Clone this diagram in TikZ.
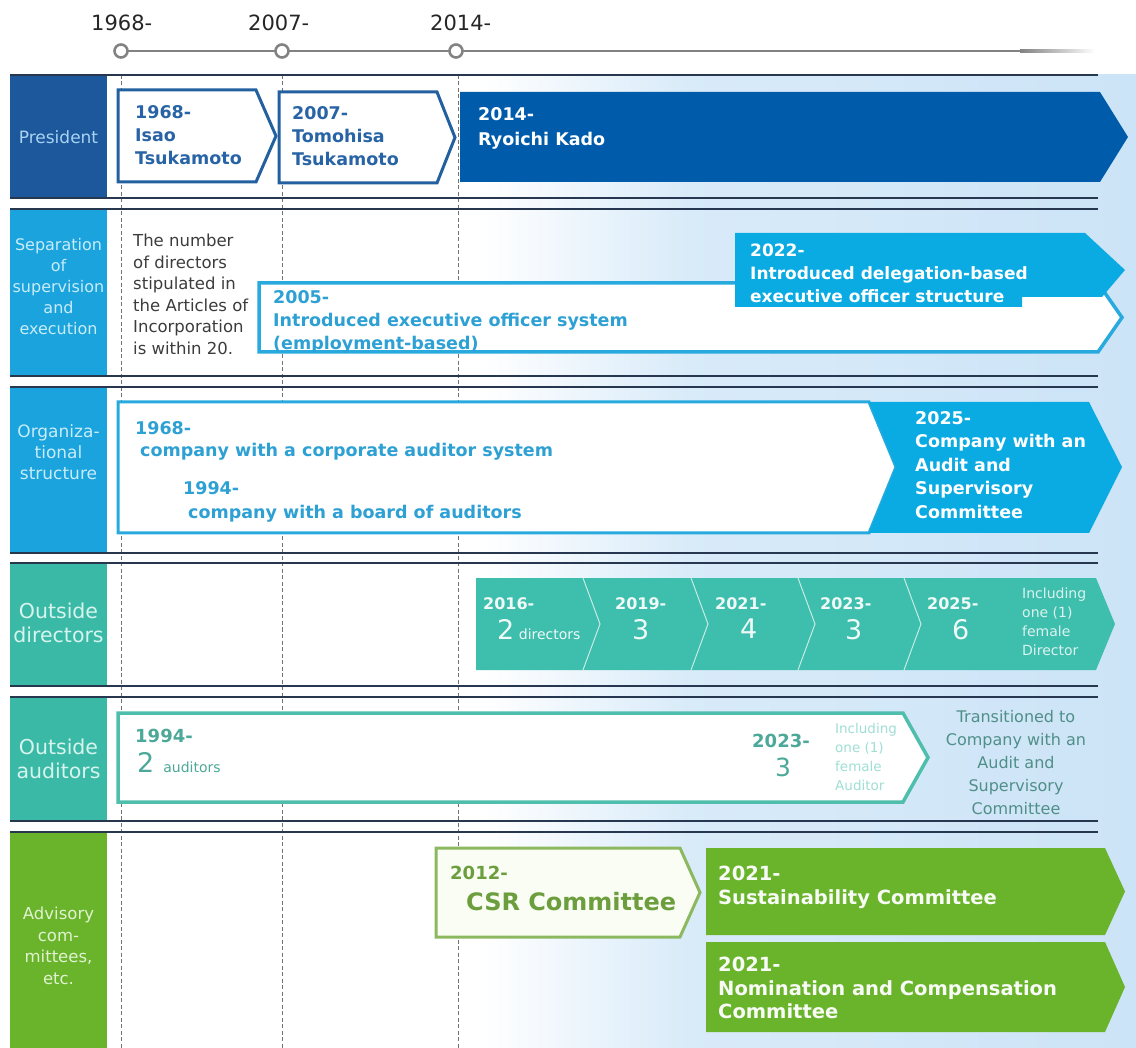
\documentclass[tikz,border=0pt]{standalone}
\usepackage{fontspec}
\setmainfont{DejaVu Sans}
\usetikzlibrary{calc}

\definecolor{presblue}{RGB}{0,91,170}
\definecolor{preslab}{RGB}{30,88,156}
\definecolor{presline}{RGB}{34,96,160}
\definecolor{prestext}{RGB}{40,100,165}
\definecolor{cyanfill}{RGB}{10,170,226}
\definecolor{cyanlab}{RGB}{26,163,220}
\definecolor{cyanline}{RGB}{40,170,222}
\definecolor{cyantext}{RGB}{45,160,212}
\definecolor{tealfill}{RGB}{62,190,172}
\definecolor{teallab}{RGB}{58,186,166}
\definecolor{tealline}{RGB}{80,190,172}
\definecolor{tealtext}{RGB}{76,168,152}
\definecolor{greenfill}{RGB}{106,180,44}
\definecolor{greenline}{RGB}{140,184,96}
\definecolor{greentext}{RGB}{108,158,62}
\definecolor{rulecol}{RGB}{40,55,80}
\definecolor{bgblue}{RGB}{204,228,247}
\definecolor{tlgray}{RGB}{130,130,130}
\definecolor{darktext}{RGB}{60,60,60}

% the filled path is mapped onto the 25bp--75bp stretch of these shadings
\pgfdeclarehorizontalshading{bgfade}{100bp}{color(0bp)=(white); color(25bp)=(white); color(27bp)=(white); color(42bp)=(bgblue!75); color(75bp)=(bgblue); color(100bp)=(bgblue)}
\pgfdeclarehorizontalshading{linefade}{100bp}{color(0bp)=(tlgray); color(25bp)=(tlgray); color(75bp)=(white); color(100bp)=(white)}

\newcommand\setfs[2]{\fontsize{#1}{#2}\selectfont}

\begin{document}
\begin{tikzpicture}[x=1pt,y=-1pt,
  txt/.style={anchor=north west, inner sep=0pt, align=left},
  lbl/.style={inner sep=0pt, align=center},
  rowrule/.style={draw=rulecol, line width=1.8pt},
  guide/.style={draw=black!55, line width=0.9pt, dash pattern=on 4pt off 2.5pt},
  arrowpath/.style n args={5}{insert path={(#1,#2) -- (#3,#2) -- (#4,{(#2+#5)/2}) -- (#3,#5) -- (#1,#5) -- cycle}},
  outlinebox/.style={fill=white, line width=3pt, line join=miter},
  boxfont/.style={font=\bfseries\setfs{17.5}{23}},
  yearmark/.style={circle, draw=tlgray, fill=white, line width=2.6pt, minimum size=13pt, inner sep=0pt}
]
\useasboundingbox (0,0) rectangle (1136,1048);

% soft blue backdrop on the right-hand side
\fill[shading=bgfade] (455,75) rectangle (1136,1048);

% timeline
\draw[tlgray, line width=2.8pt] (120,51) -- (1020,51);
\fill[shading=linefade] (1020,49.6) rectangle (1095,52.4);
\node[yearmark] (t1968) at (121,51) {};
\node[yearmark] (t2007) at (282,51) {};
\node[yearmark] (t2014) at (456,51) {};
\node[txt, font=\setfs{21}{24}, text=black!85] (y1968) at (91,15) {1968-};
\node[txt, font=\setfs{21}{24}, text=black!85] (y2007) at (248,15) {2007-};
\node[txt, font=\setfs{21}{24}, text=black!85] (y2014) at (430,15) {2014-};

% dashed period guides
\draw[guide] (t1968 |- 0,75) -- (t1968 |- 0,1048);
\draw[guide] (t2007 |- 0,75) -- (t2007 |- 0,1048);
\draw[guide] (458,75) -- (458,1048);

% row label boxes
\fill[preslab] (10,75) rectangle (107,198);
\fill[cyanlab] (10,209) rectangle (107,376);
\fill[cyanlab] (10,387) rectangle (107,553);
\fill[teallab] (10,563) rectangle (107,686);
\fill[teallab] (10,697) rectangle (107,821);
\fill[greenfill] (10,832) rectangle (107,1048);

% row rules
\foreach \yy in {75,198,209,376,387,553,563,686,697,821,832}
  \draw[rowrule] (10,\yy) -- (1098,\yy);

% row labels
\node[lbl, font=\setfs{17}{21}, text={rgb,255:red,168;green,212;blue,243}] (lpres) at (58.5,137) {President};
\node[lbl, font=\setfs{16}{21}, text={rgb,255:red,200;green,236;blue,250}] (lsep) at (58.5,287) {Separation\\of\\supervision\\and\\execution};
\node[lbl, font=\setfs{17}{21}, text={rgb,255:red,200;green,236;blue,250}] (lorg) at (58.5,452) {Organiza-\\tional\\structure};
\node[lbl, font=\setfs{20.5}{24}, text={rgb,255:red,215;green,244;blue,238}] (ldir) at (58.5,623) {Outside\\directors};
\node[lbl, font=\setfs{20.5}{24}, text={rgb,255:red,215;green,244;blue,238}] (laud) at (58.5,759) {Outside\\auditors};
\node[lbl, font=\setfs{16.5}{21.5}, text={rgb,255:red,225;green,242;blue,208}] (ladv) at (58.5,946) {Advisory\\com-\\mittees,\\etc.};

% ---- President ----
\path[outlinebox, draw=presline] [arrowpath={118}{90}{256}{276}{182}];
\path[outlinebox, draw=presline] [arrowpath={279}{92}{437}{455}{183}];
\fill[presblue] [arrowpath={460}{92}{1100}{1128}{182}];
\node[txt, boxfont, text=prestext] (isao) at (135,105) {1968-\\Isao\\Tsukamoto};
\node[txt, boxfont, text=prestext] (tomohisa) at (292,106) {2007-\\Tomohisa\\Tsukamoto};
\node[txt, font=\bfseries\setfs{17.5}{25}, text=white] (kado) at (478,107) {2014-\\Ryoichi Kado};

% ---- Separation of supervision and execution ----
\node[txt, font=\setfs{16.5}{21.5}, text=darktext] (within20) at (133,234) {The number\\of directors\\stipulated in\\the Articles of\\Incorporation\\is within 20.};
\path[outlinebox, draw=cyanline, line width=3.5pt] [arrowpath={259}{283}{1098}{1122}{352}];
\node[txt, boxfont, text=cyantext] (exec2005) at (273,290) {2005-\\Introduced executive officer system\\(employment-based)};
\fill[cyanfill] (735,233) -- (1085,233) -- (1125,270) -- (1102,297) -- (1022,297) -- (1022,307) -- (735,307) -- cycle;
\node[txt, font=\bfseries\setfs{17}{23}, text=white] (deleg2022) at (750,244) {2022-\\Introduced delegation-based\\executive officer structure};

% ---- Organizational structure ----
\path[outlinebox, draw=cyanline] (118,402) -- (869,402) -- (896,467) -- (869,533) -- (118,533) -- cycle;
\fill[cyanfill] (869,402) -- (1089,402) -- (1122,467) -- (1089,533) -- (869,533) -- (896,467) -- cycle;
\node[txt, boxfont, text=cyantext] (org1968) at (135,421) {1968-};
\node[txt, boxfont, text=cyantext] (org1968b) at (140,443) {company with a corporate auditor system};
\node[txt, boxfont, text=cyantext] (org1994) at (183,481) {1994-};
\node[txt, boxfont, text=cyantext] (org1994b) at (188,505) {company with a board of auditors};
\node[txt, font=\bfseries\setfs{17.5}{23.5}, text=white] (org2025) at (915,411) {2025-\\Company with an\\Audit and\\Supervisory\\Committee};

% ---- Outside directors ----
\fill[tealfill] [arrowpath={476}{578}{1096}{1115}{670}];
\foreach \sx in {583,691,798,904}
  \draw[white!70!tealfill, line width=1pt] (\sx,578) -- (\sx+17,624) -- (\sx,670);
\tikzset{diryear/.style={txt, font=\bfseries\setfs{16}{20}, text=white!92!tealfill},
         dirnum/.style={txt, font=\setfs{27}{30}, text=white!92!tealfill}}
\node[diryear] (d2016) at (483,597) {2016-};
\node[dirnum] (d2016n) at (497,619) {2\,{\setfs{14}{16}directors}};
\node[diryear] (d2019) at (615,597) {2019-};
\node[dirnum] (d2019n) at (632,619) {3};
\node[diryear] (d2021) at (715,597) {2021-};
\node[dirnum] (d2021n) at (740,619) {4};
\node[diryear] (d2023) at (820,597) {2023-};
\node[dirnum] (d2023n) at (845,619) {3};
\node[diryear] (d2025) at (927,597) {2025-};
\node[dirnum] (d2025n) at (952,619) {6};
\node[txt, font=\setfs{14}{19}, text=white!82!tealfill] (dfemale) at (1022,588) {Including\\one (1)\\female\\Director};

% ---- Outside auditors ----
\path[outlinebox, draw=tealline, line width=3.5pt] [arrowpath={118}{713}{903}{928}{802}];
\node[txt, font=\bfseries\setfs{18}{22}, text=tealtext] (a1994) at (135,729) {1994-};
\node[txt, font=\setfs{27}{30}, text=tealtext] (a1994n) at (137,752) {2\,\,{\setfs{14}{16}auditors}};
\node[txt, font=\bfseries\setfs{18}{22}, text=tealtext] (a2023) at (752,734) {2023-};
\node[txt, font=\setfs{25}{28}, text=tealtext] (a2023n) at (775,758) {3};
\node[txt, font=\setfs{13.5}{19}, text=tealfill!50!white] (afemale) at (835,723) {Including\\one (1)\\female\\Auditor};
\node[lbl, font=\setfs{16}{23}, text={rgb,255:red,80;green,143;blue,137}] (atrans) at (1016,763) {Transitioned to\\Company with an\\Audit and\\Supervisory\\Committee};

% ---- Advisory committees ----
\path[outlinebox, draw=greenline, fill={rgb,255:red,250;green,253;blue,244}] [arrowpath={436}{848}{680}{700}{937}];
\node[txt, font=\bfseries\setfs{18}{22}, text=greentext] (csr2012) at (450,866) {2012-};
\node[txt, font=\bfseries\setfs{24}{27}, text=greentext] (csr) at (466,892) {CSR Committee};
\fill[greenfill] [arrowpath={706}{848}{1105}{1125}{935}];
\fill[greenfill] [arrowpath={706}{942}{1105}{1125}{1032}];
\node[txt, font=\bfseries\setfs{19.5}{23.5}, text=white!95!greenfill] (sust) at (718,866) {2021-\\Sustainability Committee};
\node[txt, font=\bfseries\setfs{19.5}{23.5}, text=white!95!greenfill] (nomin) at (718,957) {2021-\\Nomination and Compensation\\Committee};
\end{tikzpicture}
\end{document}
